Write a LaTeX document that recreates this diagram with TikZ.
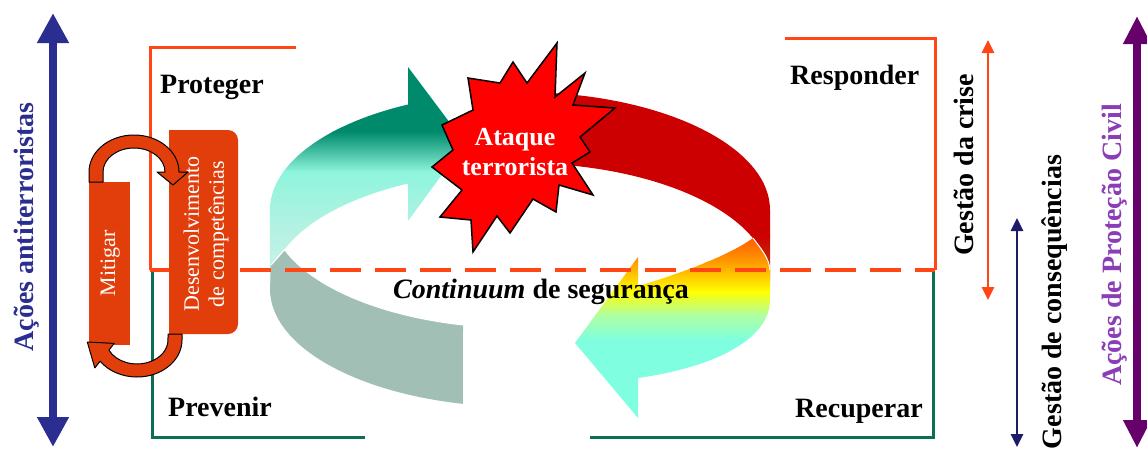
\documentclass[tikz,border=0pt]{standalone}
\usepackage{fontspec}
\setmainfont{Liberation Serif}
\usetikzlibrary{arrows.meta}
\definecolor{ablue}{HTML}{2B2E91}
\definecolor{apurple}{HTML}{66006B}
\definecolor{tpurple}{HTML}{8B3DB8}
\definecolor{lineor}{HTML}{FF4614}
\definecolor{linegr}{HTML}{0D6E55}
\definecolor{boxor}{HTML}{E23E0C}
\definecolor{navyc}{HTML}{1C1C6A}
\definecolor{gdark}{HTML}{008A6C}
\definecolor{glight}{HTML}{8EF5DC}
\definecolor{gpale}{HTML}{B8F1E4}
\definecolor{gpaler}{HTML}{D0F3EC}
\definecolor{grayc}{HTML}{A2BFB5}
\definecolor{rdark}{HTML}{CC0000}
\definecolor{rbrown}{HTML}{C04A10}
\definecolor{rorA}{HTML}{FF4A00}
\definecolor{rorB}{HTML}{FF9A00}
\definecolor{ryel}{HTML}{FFFF00}
\definecolor{rlg}{HTML}{B0FFA0}
\definecolor{raq}{HTML}{7FFFE0}
\begin{document}
\begin{tikzpicture}[x=1pt,y=-1pt,
  hlbl/.style={font=\fontsize{28}{32}\selectfont\bfseries, inner sep=0pt, anchor=base west},
  vlbl/.style={font=\fontsize{28}{32}\selectfont\bfseries, inner sep=0pt, rotate=90, anchor=base},
  boxtxt/.style={font=\fontsize{22}{25}\selectfont, text=white, inner sep=0pt, rotate=90, align=center},
  frameO/.style={draw=lineor, line width=3pt},
  frameG/.style={draw=linegr, line width=3pt},
  cyclearrow/.style={fill=boxor, draw=black, line width=1pt, line join=round},
  bigarrow/.style={line width=8pt, {Triangle[length=30pt,width=30pt]}-{Triangle[length=30pt,width=30pt]}},
  smallarrow/.style={line width=2.7pt, {Triangle[length=13pt,width=12pt]}-{Triangle[length=13pt,width=12pt]}}
]
\useasboundingbox (0,0) rectangle (1147,453);

% frames
\draw[frameO] (296,47) -- (150,47) -- (150,270);
\draw[frameG] (152,270) -- (152,437) -- (365,437);
\draw[frameO] (785,38) -- (935,38) -- (935,270);
\draw[frameG] (933,270) -- (933,437) -- (590,437);

% green back-left arrow
\begin{scope}
\clip (408,104.5) arc[start angle=-116.6, end angle=-180, x radius=250, y radius=118]
  -- (270,289) arc[start angle=180, end angle=243.4, x radius=250, y radius=118]
  -- (408,221) -- (465,143) -- (408,67) -- cycle;
\fill[gdark] (260,40) rectangle (480,132);
\shade[top color=gdark, bottom color=glight] (260,131.5) rectangle (480,172);
\shade[top color=glight, bottom color=gpale] (260,171.5) rectangle (480,235);
\shade[top color=gpale, bottom color=gpaler] (260,234.5) rectangle (480,300);
\end{scope}

% red back-right arrow
\begin{scope}
\clip (545,92.6) arc[start angle=-84.26, end angle=0, x radius=250, y radius=118]
  -- (770,281) arc[start angle=0, end angle=-84.26, x radius=250, y radius=118] -- cycle;
\fill[rdark] (530,40) rectangle (780,236);
\shade[top color=rdark, bottom color=rbrown] (530,235.5) rectangle (780,285);
\end{scope}

% gray front-left arrow
\fill[grayc] (463,324.9) arc[start angle=103.2, end angle=160.4, x radius=250, y radius=118]
  -- (271,265) -- (270,289) arc[start angle=180, end angle=103.2, x radius=250, y radius=118] -- cycle;
\draw[white, line width=1.2pt] (463,324.9) arc[start angle=103.2, end angle=160.4, x radius=250, y radius=118] -- (271,265);

% front-right arrow
\begin{scope}
\clip (753,238) .. controls (762,250) and (769,258) .. (770,270) -- (770,300)
  .. controls (770,336) and (722,366) .. (638,378) -- (638,418) -- (575,343) -- (638,257)
  -- (638,286) .. controls (666,278) and (726,258) .. (753,238) -- cycle;
\shade[top color=rorA, bottom color=rorB] (560,230) rectangle (780,262);
\shade[top color=rorB, bottom color=ryel] (560,261.5) rectangle (780,292);
\shade[top color=ryel, bottom color=rlg] (560,291.5) rectangle (780,315);
\shade[top color=rlg, bottom color=raq] (560,314.5) rectangle (780,340);
\fill[raq] (560,339.5) rectangle (780,430);
\end{scope}
\draw[white, line width=1pt] (753,238) .. controls (762,250) and (769,258) .. (770,270);

% star
\draw[fill=red, draw=black, line width=1.5pt, line join=miter]
  (557,43) -- (555,97) -- (585,73) -- (573,105) -- (615,108) -- (580,137) -- (590,152)
  -- (572,163) -- (593,195) -- (559,185) -- (556,212) -- (533,199) -- (510,233)
  -- (497,216) -- (473,252) -- (471,220) -- (440,217) -- (462,190) -- (432,167)
  -- (453,150) -- (442,125) -- (473,110) -- (468,78) -- (500,83) -- (513,62) -- (527,83) -- cycle;
\node[font=\fontsize{26}{30}\selectfont\bfseries, text=white, inner sep=0pt, anchor=base] (ataque) at (515,145) {Ataque};
\node[font=\fontsize{26}{30}\selectfont\bfseries, text=white, inner sep=0pt, anchor=base] (terror) at (515,175) {terrorista};

% dashed line
\coordinate (dl) at (150,270);
\coordinate (dr) at (935,270);
\draw[lineor, line width=4pt, dash pattern=on 31pt off 14pt] (dl) -- (dr);

% boxes
\fill[boxor] (89,182) rectangle (130,345);
\fill[boxor, rounded corners=10pt] (169,130) rectangle (238,334);
\fill[boxor] (169,130) rectangle (200,334);
\node[boxtxt, anchor=base] (mitigar) at (115,263) {Mitigar};
\node[boxtxt] (desenv) at (206,234) {Desenvolvimento\\de competências};

% small cycle arrows
\draw[cyclearrow] (89,182) -- (89,172) arc[start angle=180, end angle=360, x radius=45, y radius=37]
  -- (188,172) -- (173,185) -- (157,172) -- (165,172)
  arc[start angle=360, end angle=180, x radius=31, y radius=24] -- (103,182) -- cycle;
\draw[cyclearrow] (182,334) -- (182,340) arc[start angle=0, end angle=145, x radius=45, y radius=37]
  -- (94.8,367.9) -- (87.3,342) -- (114.2,343.4) -- (108.9,350.1)
  arc[start angle=155, end angle=0, x radius=31, y radius=24] -- (168,334) -- cycle;

% side arrows
\coordinate (bt) at (53,13);
\coordinate (bb) at (53,447);
\draw[bigarrow, ablue] (bt) -- (bb);
\coordinate (pt) at (1137,16);
\coordinate (pb) at (1137,448);
\draw[line width=8pt, apurple, {Triangle[length=28pt,width=26pt]}-{Triangle[length=28pt,width=26pt]}] (pt) -- (pb);
\coordinate (ot) at (988,40);
\coordinate (ob) at (988,300);
\draw[smallarrow, lineor] (ot) -- (ob);
\coordinate (nt) at (1017,218);
\coordinate (nb) at (1017,447);
\draw[smallarrow, navyc] (nt) -- (nb);

% labels
\node[hlbl] (proteger) at (160,93) {Proteger};
\node[hlbl] (prevenir) at (168,416) {Prevenir};
\node[hlbl] (responder) at (790,84) {Responder};
\node[hlbl] (recuperar) at (795,417) {Recuperar};
\node[hlbl] (continuum) at (393,298) {\textit{Continuum} de segurança};
\node[vlbl, text=ablue] (antiterr) at (33,227) {Ações antiterroristas};
\node[vlbl] (crise) at (973,165) {Gestão da crise};
\node[vlbl] (conseq) at (1061,302) {Gestão de consequências};
\node[vlbl, text=tpurple] (civil) at (1121,245) {Ações de Proteção Civil};
\end{tikzpicture}
\end{document}
